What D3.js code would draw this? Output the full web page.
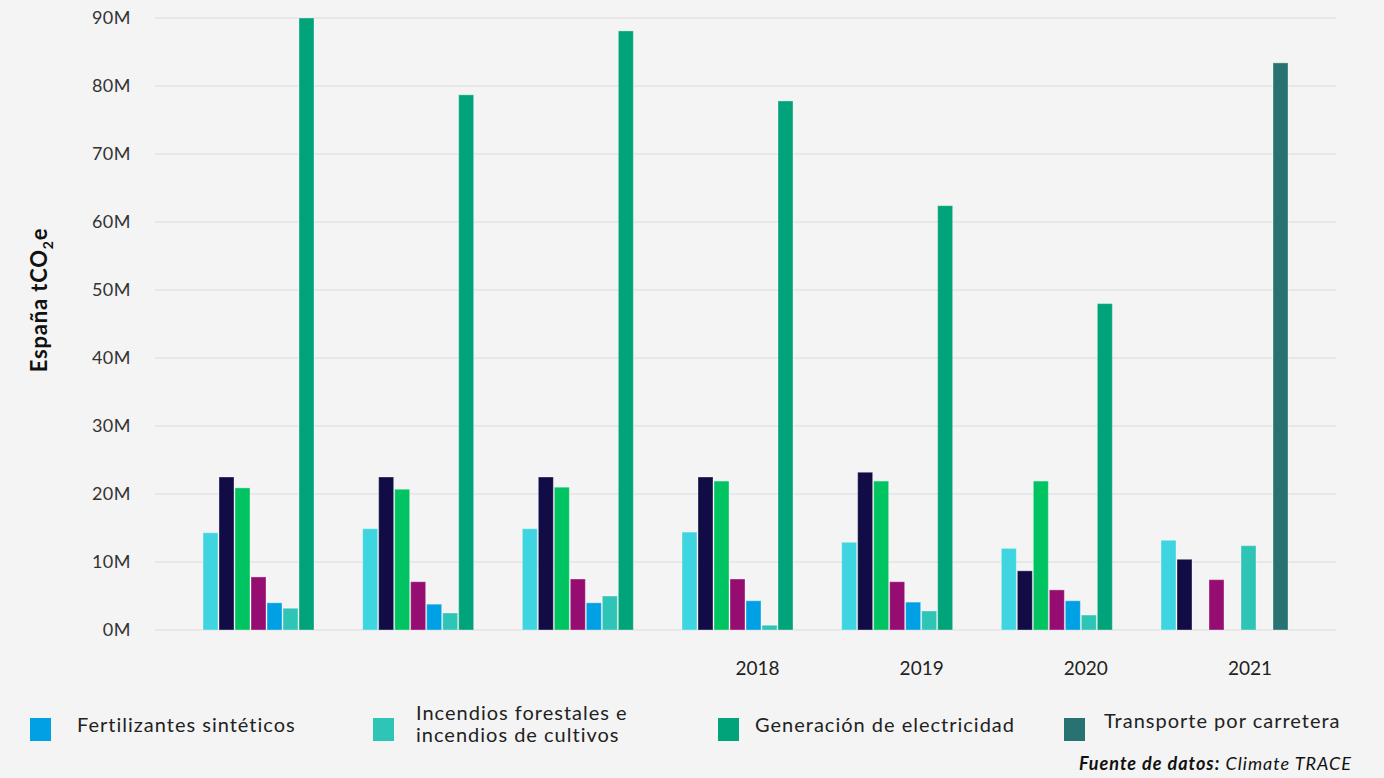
<!DOCTYPE html>
<html>
<head>
<meta charset="utf-8">
<script src="https://cdn.jsdelivr.net/npm/d3@7"></script>
<style>
  html, body { margin: 0; padding: 0; background: #f4f4f4; }
  svg { display: block; font-family: Lato, "Open Sans", sans-serif; }
</style>
</head>
<body>
<svg id="chart" width="1384" height="778"></svg>
<script>
// ---- Data ----
const years = ["2015", "2016", "2017", "2018", "2019", "2020", "2021"];
const yearLabels = ["", "", "", "2018", "2019", "2020", "2021"];
const seriesKeys = ["s1", "s2", "s3", "s4", "fert", "fuegos", "elec", "transp"];
const seriesColors = ["#3fd5e0", "#110c45", "#00c462", "#960d72", "#00a0e4", "#2ec4b6", "#00a37a", "#287371"];
// values in millions of tCO2e
const s1Values     = [14.3, 14.9, 14.9, 14.4, 12.9, 12.0, 13.2];
const s2Values     = [22.5, 22.5, 22.5, 22.5, 23.2,  8.7, 10.4];
const s3Values     = [20.9, 20.7, 21.0, 21.9, 21.9, 21.9,  0];
const s4Values     = [ 7.8,  7.1,  7.5,  7.5,  7.1,  5.9,  7.4];
const fertValues   = [ 4.0,  3.8,  4.0,  4.3,  4.1,  4.3,  0];
const fuegosValues = [ 3.2,  2.5,  5.0,  0.7,  2.8,  2.2, 12.4];
const elecValues   = [90.0, 78.7, 88.1, 77.8, 62.4, 48.0,  0];
const transpValues = [ 0,    0,    0,    0,    0,    0,   83.4];
const yTicks = [0, 10, 20, 30, 40, 50, 60, 70, 80, 90];
const legendKeys = ["fert", "fuegos", "elec", "transp"];
const legendLabels = [["Fertilizantes sintéticos"], ["Incendios forestales e", "incendios de cultivos"], ["Generación de electricidad"], ["Transporte por carretera"]];

const allValues = [s1Values, s2Values, s3Values, s4Values, fertValues, fuegosValues, elecValues, transpValues];
const rows = years.map((y, i) => ({
  year: y,
  vals: seriesKeys.map((k, j) => ({ key: k, value: allValues[j][i] }))
}));
const color = d3.scaleOrdinal().domain(seriesKeys).range(seriesColors);

// ---- Layout ----
const svg = d3.select("#chart");
const y = d3.scaleLinear().domain([0, 90]).range([630, 18]);
const x0 = d3.scaleBand().domain(years).range([203, 1288]).paddingInner(0.2046).paddingOuter(0);
const x1 = d3.scaleBand().domain(seriesKeys).range([0, x0.bandwidth()]).paddingInner(0.0625).paddingOuter(0);
const xLab = d3.scalePoint().domain(years).range([265, 1250]);

// gridlines
svg.append("g").selectAll("line").data(yTicks).join("line")
  .attr("x1", 155).attr("x2", 1336)
  .attr("y1", d => y(d)).attr("y2", d => y(d))
  .attr("stroke", "#dcdcdc").attr("stroke-width", 1.2);

// y axis labels
const yAxis = d3.axisLeft(y).tickValues(yTicks).tickFormat(d => d + "M").tickSize(0).tickPadding(0);
const ga = svg.append("g").attr("transform", "translate(131,0)").call(yAxis);
ga.select(".domain").remove();
ga.selectAll("text").attr("font-size", 18).attr("fill", "#333").attr("font-family", "Lato, sans-serif")
  .attr("letter-spacing", 0.5);

// y axis title
const yt = svg.append("text")
  .attr("transform", "translate(47,300) rotate(-90)")
  .attr("text-anchor", "middle")
  .attr("font-size", 22).attr("font-weight", "bold").attr("fill", "#111")
  .attr("letter-spacing", 0.8);
yt.append("tspan").text("España tCO");
yt.append("tspan").attr("font-size", 14).attr("dy", 6).text("2");
yt.append("tspan").attr("dy", -6).text("e");

// bars
svg.append("g").selectAll("g").data(rows).join("g")
  .attr("transform", d => `translate(${x0(d.year)},0)`)
  .selectAll("rect").data(d => d.vals.filter(v => v.value > 0)).join("rect")
  .attr("x", d => x1(d.key))
  .attr("width", x1.bandwidth())
  .attr("y", d => y(d.value))
  .attr("height", d => y(0) - y(d.value))
  .attr("fill", d => color(d.key))
  .attr("stroke", "rgba(255,255,255,0.35)").attr("stroke-width", 1);

// x labels
svg.append("g").selectAll("text").data(years).join("text")
  .attr("x", d => xLab(d)).attr("y", 675)
  .attr("text-anchor", "middle")
  .attr("font-size", 19).attr("fill", "#222")
  .text((d, i) => yearLabels[i]);

// legend
const legendX = [30, 373, 718, 1064];
const textX = [47, 43, 37, 40];
const lg = svg.append("g").selectAll("g").data(legendKeys).join("g")
  .attr("transform", (d, i) => `translate(${legendX[i]},718)`);
lg.append("rect").attr("width", 21).attr("height", 23).attr("fill", d => color(d));
lg.each(function(d, i) {
  const lines = legendLabels[i];
  const t = d3.select(this).append("text")
    .attr("font-size", 20).attr("fill", "#222").attr("letter-spacing", 1);
  const baseY = lines.length === 1 ? (i === 3 ? 5 : 9) : -3;
  lines.forEach((ln, k) => {
    t.append("tspan").attr("x", textX[i])
      .attr("y", baseY + k * 22).attr("dominant-baseline", "middle").text(ln);
  });
});

// source
const src = svg.append("text").attr("x", 1352).attr("y", 770)
  .attr("text-anchor", "end").attr("font-size", 18).attr("font-style", "italic").attr("fill", "#111")
  .attr("letter-spacing", 1);
src.append("tspan").attr("font-weight", "bold").text("Fuente de datos:");
src.append("tspan").text(" Climate TRACE");
</script>
</body>
</html>
